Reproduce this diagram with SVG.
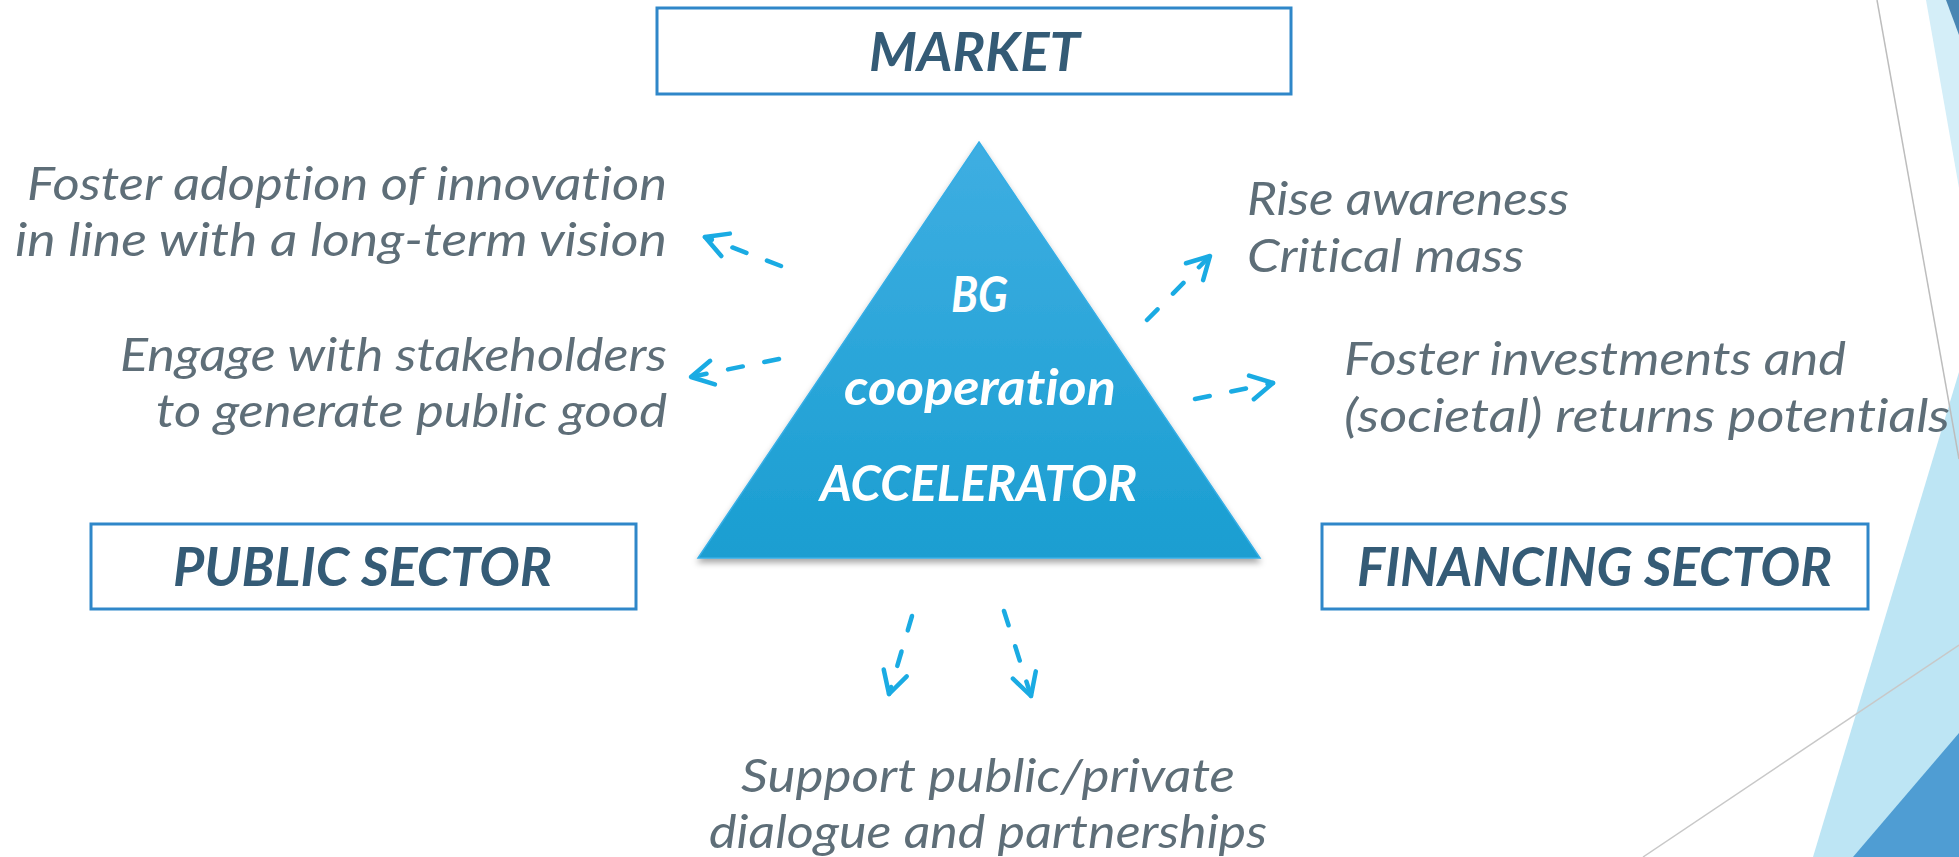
<svg xmlns="http://www.w3.org/2000/svg" width="1959" height="857" viewBox="0 0 1959 857">
<style>
text{font-variant-ligatures:none;font-feature-settings:"liga" 0}
.box{fill:#ffffff;stroke:#2f87c9;stroke-width:3}
.lbl{font-family:Lato,"Open Sans","Liberation Sans",sans-serif;font-style:italic;font-weight:700;font-size:53px;fill:#345b76}
.txt{font-family:Lato,"Open Sans","Liberation Sans",sans-serif;font-style:italic;font-weight:400;font-size:47px;fill:#5e6e78}
.tri{font-family:Lato,"Open Sans","Liberation Sans",sans-serif;font-style:italic;font-weight:700;font-size:49px;fill:#ffffff}
.arr{fill:none;stroke:#1aabe3;stroke-width:4.5;stroke-linecap:round;stroke-dasharray:15 22}
</style>
<defs>
<linearGradient id="tg" x1="0" y1="0" x2="0" y2="1">
<stop offset="0" stop-color="#3eaee2"/>
<stop offset="1" stop-color="#1a9ed1"/>
</linearGradient>
<filter id="sh" x="-10%" y="-10%" width="120%" height="130%">
<feDropShadow dx="0" dy="4" stdDeviation="3" flood-color="#000" flood-opacity="0.35"/>
</filter>
<marker id="ah" markerUnits="userSpaceOnUse" orient="auto" refX="0" refY="0" markerWidth="40" markerHeight="40" viewBox="-30 -20 40 40" overflow="visible">
<path d="M-22,-12 L0,0 L-22,12" fill="none" stroke="#1aabe3" stroke-width="4.5" stroke-linecap="round" stroke-linejoin="round"/>
</marker>
</defs>
<rect width="1959" height="857" fill="#ffffff"/>
<g id="background">
<polygon points="1926,0 1959,0 1959,188" fill="#d4eef8"/>
<polygon points="1946,0 1959,0 1959,35" fill="#4a86b3"/>
<polygon points="1959,372 1813,857 1959,857" fill="#bde5f4"/>
<polygon points="1853,857 1959,733 1959,857" fill="#4f9dd3"/>
<line x1="1877" y1="0" x2="1959" y2="459" stroke="#bdbdbd" stroke-width="1.5"/>
<line x1="1643" y1="857" x2="1959" y2="645" stroke="#c8c8c8" stroke-width="1.5"/>
</g>
<g id="market">
<rect class="box" x="657" y="8" width="634" height="86"/>
<text class="lbl" x="869" y="71" textLength="211" lengthAdjust="spacingAndGlyphs">MARKET</text>
</g>
<g id="public-sector">
<rect class="box" x="91" y="524" width="545" height="85"/>
<text class="lbl" x="173" y="586" textLength="379" lengthAdjust="spacingAndGlyphs">PUBLIC SECTOR</text>
</g>
<g id="financing-sector">
<rect class="box" x="1322" y="524" width="546" height="85"/>
<text class="lbl" x="1357" y="586" textLength="475" lengthAdjust="spacingAndGlyphs">FINANCING SECTOR</text>
</g>
<g id="accelerator">
<polygon points="979,142 1260,558 698,558" fill="url(#tg)" stroke="#35aee6" stroke-width="1.5" filter="url(#sh)"/>
<text class="tri" x="951" y="312" textLength="57" lengthAdjust="spacingAndGlyphs">BG</text>
<text class="tri" x="844" y="405" textLength="272" lengthAdjust="spacingAndGlyphs">cooperation</text>
<text class="tri" x="820" y="501" textLength="317" lengthAdjust="spacingAndGlyphs">ACCELERATOR</text>
</g>
<g id="goal-innovation">
<text class="txt" x="27" y="200" textLength="640" lengthAdjust="spacingAndGlyphs">Foster adoption of innovation</text>
<text class="txt" x="15" y="256" textLength="652" lengthAdjust="spacingAndGlyphs">in line with a long-term vision</text>
</g>
<g id="goal-stakeholders">
<text class="txt" x="120" y="371" textLength="547" lengthAdjust="spacingAndGlyphs">Engage with stakeholders</text>
<text class="txt" x="156" y="427" textLength="511" lengthAdjust="spacingAndGlyphs">to generate public good</text>
</g>
<g id="goal-awareness">
<text class="txt" x="1247" y="215" textLength="322" lengthAdjust="spacingAndGlyphs">Rise awareness</text>
<text class="txt" x="1247" y="272" textLength="277" lengthAdjust="spacingAndGlyphs">Critical mass</text>
</g>
<g id="goal-investments">
<text class="txt" x="1344" y="375" textLength="502" lengthAdjust="spacingAndGlyphs">Foster investments and</text>
<text class="txt" x="1344" y="432" textLength="606" lengthAdjust="spacingAndGlyphs">(societal) returns potentials</text>
</g>
<g id="goal-dialogue">
<text class="txt" x="741" y="792" textLength="494" lengthAdjust="spacingAndGlyphs">Support public/private</text>
<text class="txt" x="709" y="848" textLength="558" lengthAdjust="spacingAndGlyphs">dialogue and partnerships</text>
</g>
<g id="connectors">
<line class="arr" x1="781" y1="266" x2="705" y2="237" marker-end="url(#ah)"/>
<line class="arr" x1="779" y1="359" x2="691" y2="377" marker-end="url(#ah)"/>
<line class="arr" x1="1147" y1="320" x2="1210" y2="256" marker-end="url(#ah)"/>
<line class="arr" x1="1195" y1="399" x2="1273" y2="383" marker-end="url(#ah)"/>
<line class="arr" x1="912" y1="616" x2="889" y2="694" marker-end="url(#ah)"/>
<line class="arr" x1="1004" y1="611" x2="1031" y2="696" marker-end="url(#ah)"/>
</g>
</svg>
